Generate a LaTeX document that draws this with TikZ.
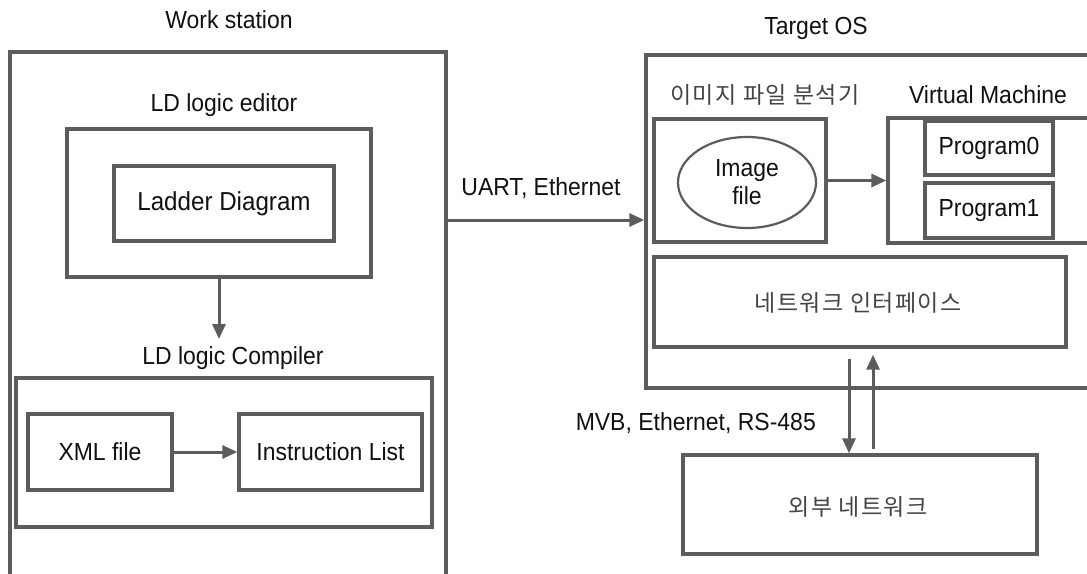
\documentclass[tikz,border=0pt]{standalone}
\usepackage{fontspec}
\setmainfont{Liberation Sans}[FakeStretch=0.93]
\newfontfamily\kofont{Noto Sans CJK KR}[LetterSpace=6]
\usetikzlibrary{arrows.meta,shapes.geometric}
\definecolor{linegray}{HTML}{5C5C5C}
\definecolor{txt}{HTML}{111111}
\definecolor{kotxt}{HTML}{444444}
\tikzset{
  box/.style={draw=linegray, line width=3.4pt, rectangle, inner sep=0pt, fill=none},
  oval/.style={draw=linegray, line width=2.2pt, ellipse, inner sep=0pt},
  lbl/.style={text=txt, font=\fontsize{24.7}{29}\selectfont, inner sep=0pt},
  kolbl/.style={text=kotxt, font=\kofont\fontsize{23}{27}\selectfont, inner sep=0pt},
  arr/.style={draw=linegray, line width=3pt, -{Triangle[length=15pt,width=13pt]}},
}
\begin{document}
\begin{tikzpicture}[x=1pt, y=-1pt]
\useasboundingbox (0,0) rectangle (1087,573);
\fill[white] (0,0) rectangle (1087,573);
\begin{scope}
\clip (0,0) rectangle (1087,573);

% Work station side
\node[lbl] (wslbl) at (229,20) {Work station};
\node[box, minimum width=436pt, minimum height=568pt] (ws) at (228,336) {};
\node[lbl] (edlbl) at (224,105) {LD logic editor};
\node[box, minimum width=304pt, minimum height=148pt] (ed) at (219,203) {};
\node[box, minimum width=220pt, minimum height=75pt, font=\fontsize{26}{30}\selectfont, text=txt] (ladder) at (224,203.5) {Ladder Diagram};
\node[lbl] (cmpllbl) at (233,358) {LD logic Compiler};
\node[box, minimum width=416pt, minimum height=149pt] (cmpl) at (224,452.5) {};
\node[box, minimum width=144pt, minimum height=76pt, font=\fontsize{24.7}{29}\selectfont, text=txt] (xml) at (100,452) {XML file};
\node[box, minimum width=183pt, minimum height=76pt, font=\fontsize{24.7}{29}\selectfont, text=txt] (il) at (330.5,452) {Instruction List};

\coordinate (edarrowend) at (219,339);
\draw[arr] (ed.south) -- (edarrowend);
\draw[arr] (xml.east) -- (il.west);

% Target side
\node[lbl] (toslbl) at (816,28) {Target OS};
\node[box, minimum width=474pt, minimum height=333pt] (tos) at (883,221.5) {};
\node[kolbl] (imglbl) at (765,95) {이미지 파일 분석기};
\node[lbl] (vmlbl) at (988,95) {Virtual Machine};
\node[box, minimum width=172pt, minimum height=123pt] (img) at (740,180.5) {};
\node[oval, minimum width=138pt, minimum height=91pt, align=center, font=\fontsize{24.7}{28}\selectfont, text=txt] (imgfile) at (747,182.5) {Image\\file};
\node[box, minimum width=222pt, minimum height=125pt] (vm) at (999,180.5) {};
\node[box, minimum width=128pt, minimum height=54pt, font=\fontsize{24.7}{29}\selectfont, text=txt] (p0) at (989,148) {Program0};
\node[box, minimum width=128pt, minimum height=55pt, font=\fontsize{24.7}{29}\selectfont, text=txt] (p1) at (989,210.5) {Program1};
\node[box, minimum width=412pt, minimum height=90pt] (net) at (860,302) {};
\node[kolbl] (netlbl) at (858,303) {네트워크 인터페이스};
\node[box, minimum width=354pt, minimum height=99pt] (ext) at (860,504.5) {};
\node[kolbl] (extlbl) at (858,507) {외부 네트워크};

\node[lbl] (uartlbl) at (541,188) {UART, Ethernet};
\node[lbl, anchor=east] (mvblbl) at (816,423) {MVB, Ethernet, RS-485};

\coordinate (uarty) at (0,220);
\draw[arr] (ws.east |- uarty) -- (tos.west |- uarty);
\draw[arr] (img.east) -- (vm.west);
\draw[arr] ([shift={(-11,10)}]net.south) -- ([xshift=-11pt]ext.north);
\draw[arr] ([shift={(13,-4)}]ext.north) -- ([shift={(13,6)}]net.south);
\end{scope}
\end{tikzpicture}
\end{document}
